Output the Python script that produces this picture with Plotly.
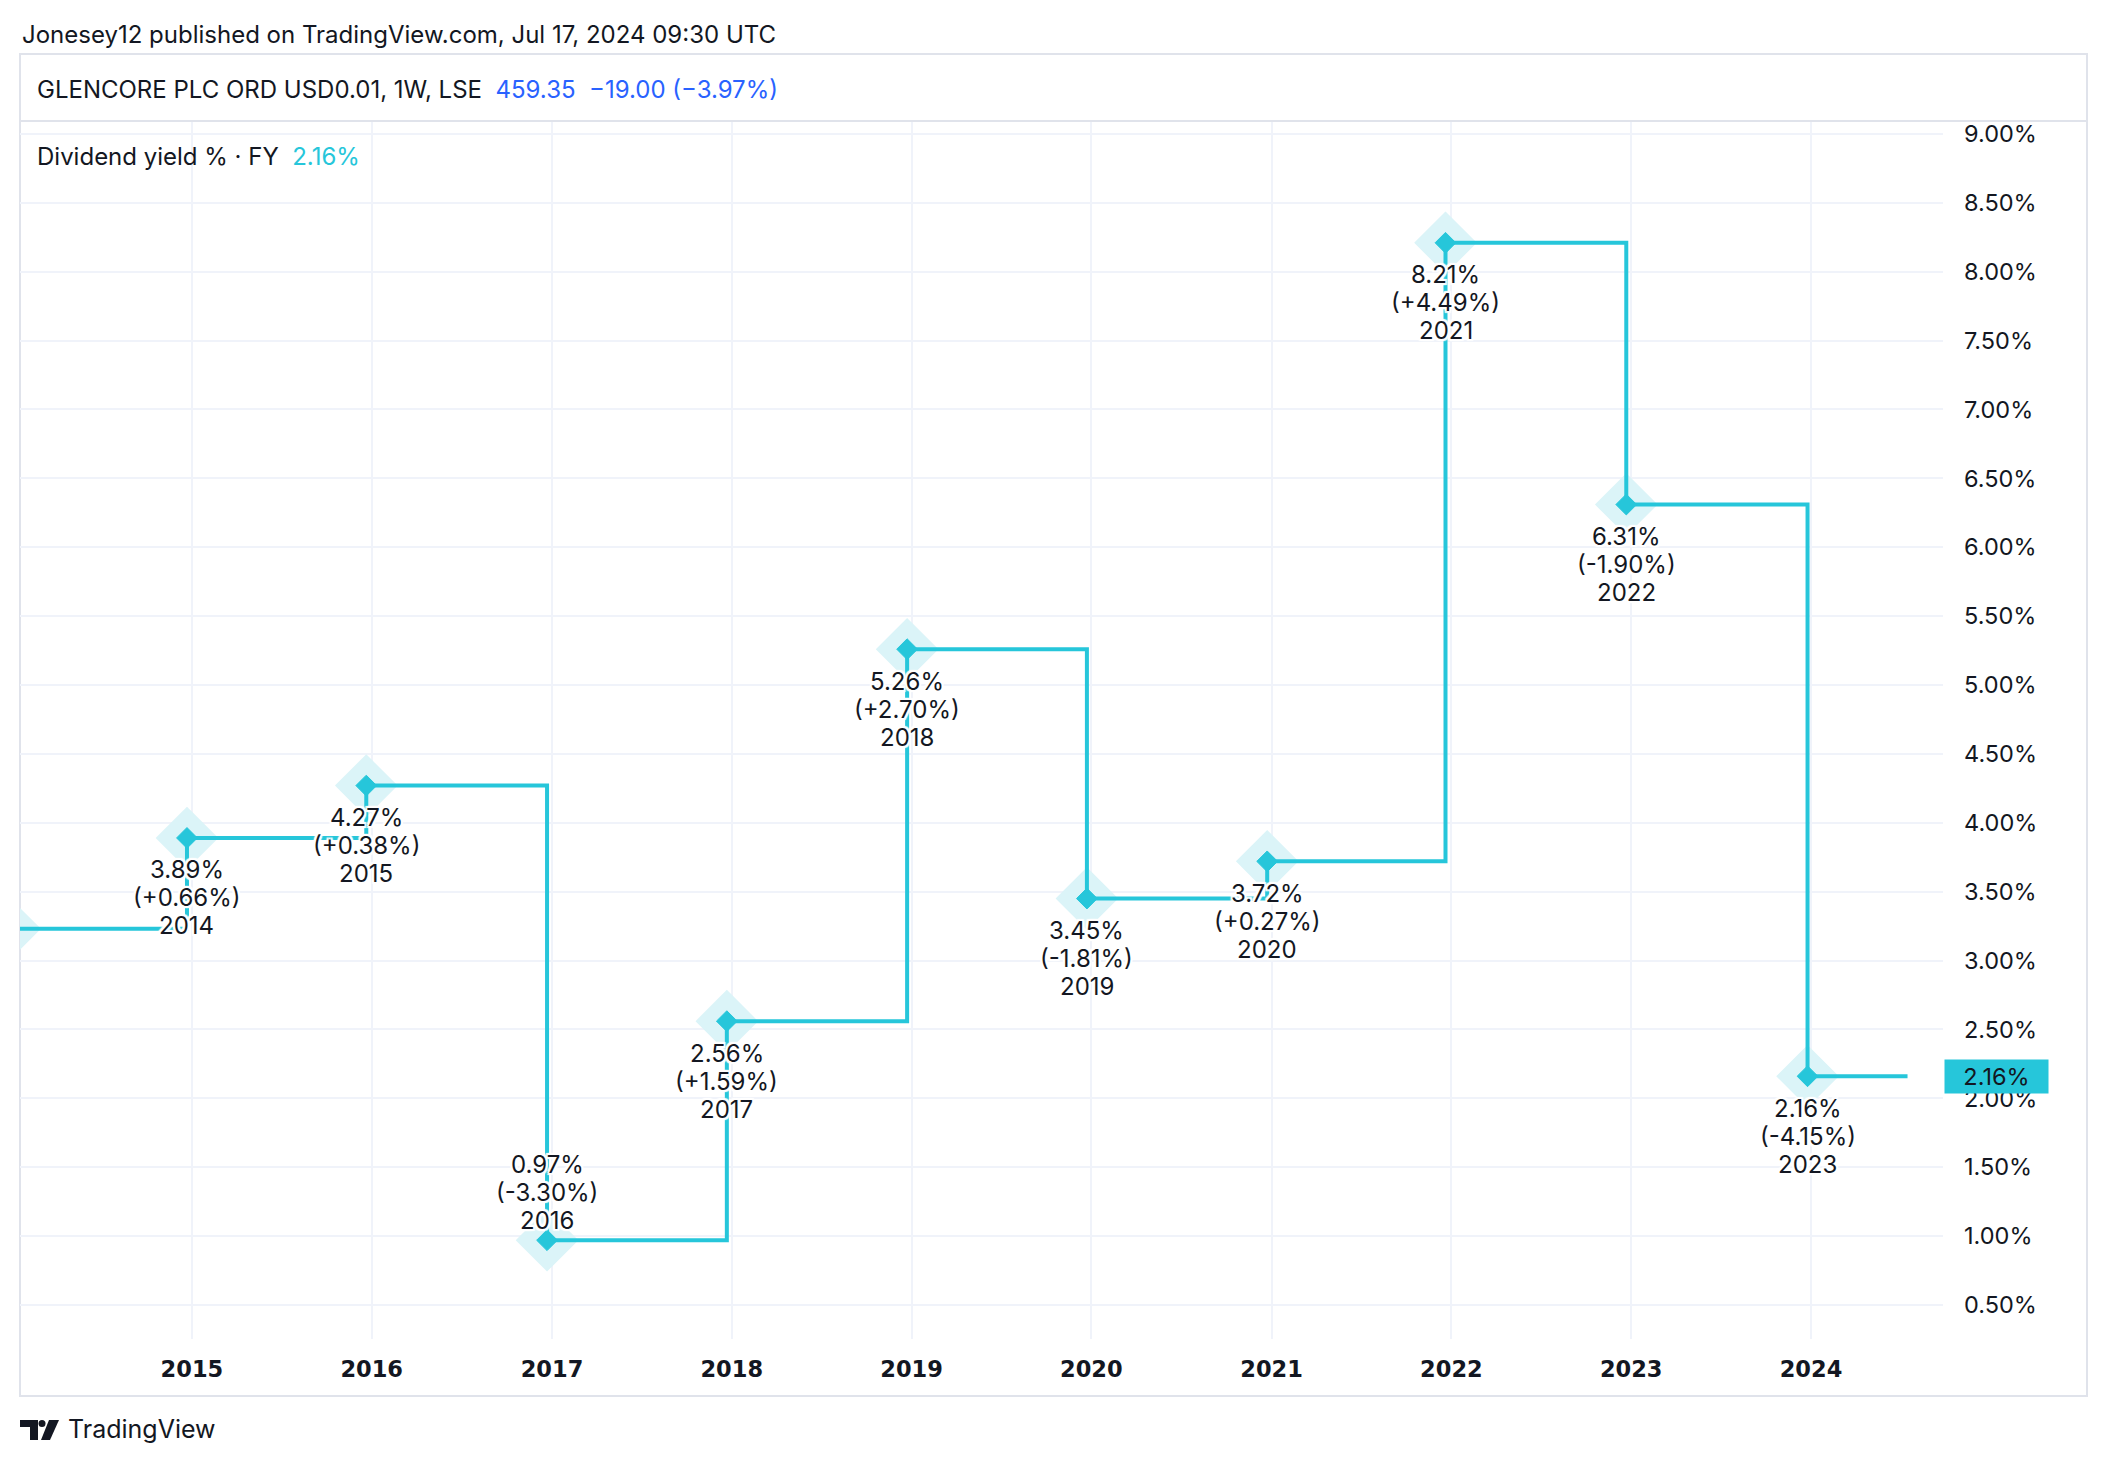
import plotly.graph_objects as go

# ---------------- data ----------------
fiscal_years = [2013, 2014, 2015, 2016, 2017, 2018, 2019, 2020, 2021, 2022, 2023]
point_dates = ["2013-12-27", "2014-12-22", "2015-12-21", "2016-12-22", "2017-12-22",
               "2018-12-23", "2019-12-23", "2020-12-23", "2021-12-20", "2022-12-22", "2023-12-25"]
dividend_yield = [3.23, 3.89, 4.27, 0.97, 2.56, 5.26, 3.45, 3.72, 8.21, 6.31, 2.16]
yoy_change = [None, 0.66, 0.38, -3.30, 1.59, 2.70, -1.81, 0.27, 4.49, -1.90, -4.15]
last_date = "2024-07-15"
current_yield = 2.16
year_ticks = ["2015-01-01", "2016-01-01", "2017-01-01", "2018-01-01", "2019-01-01",
              "2020-01-01", "2021-01-01", "2022-01-01", "2023-01-01", "2024-01-01"]
year_tick_labels = ["2015", "2016", "2017", "2018", "2019", "2020", "2021", "2022", "2023", "2024"]

# ---------------- style / layout (page pixel targets) ----------------
OFF = 8                     # default body margin of the html page
W, H = 2090, 1446           # figure size
L, R, T, B = 20, 1943, 121, 1339   # plot area in page pixels
CYAN = "#26C6DA"
HALO = "#DBF4F8"
DARK = "#131722"
GRID = "#F0F3FA"
FRAME = "#E0E3EB"
BLUE = "#2962FF"
FONT = "Inter"


def px2x(px):
    return (px - L) / (R - L)


def py2y(py):
    return (B - py) / (B - T)


fig = go.Figure()

# halo markers
fig.add_trace(go.Scatter(
    x=point_dates, y=dividend_yield, mode="markers",
    marker=dict(symbol="diamond", size=46, color=HALO, line=dict(width=2, color=HALO)),
    hoverinfo="skip", showlegend=False))

# step line
fig.add_trace(go.Scatter(
    x=point_dates + [last_date], y=dividend_yield + [current_yield],
    mode="lines", line=dict(color=CYAN, width=4, shape="hv"),
    hoverinfo="skip", showlegend=False))

# core markers
fig.add_trace(go.Scatter(
    x=point_dates, y=dividend_yield, mode="markers",
    marker=dict(symbol="diamond", size=16, color=CYAN, line=dict(width=1, color=CYAN)),
    hoverinfo="skip", showlegend=False))

shadow = ", ".join(f"{dx}px {dy}px 1px white" for dx in (-2, 0, 2) for dy in (-2, 0, 2) if (dx, dy) != (0, 0))

annotations = []
for d, v, c, yr in zip(point_dates, dividend_yield, yoy_change, fiscal_years):
    if c is None:
        continue
    lines = [f"{v:.2f}%", f"({c:+.2f}%)", f"{yr}"]
    above = v < 1.5
    for i, ln in enumerate(lines):
        shift = (20 + 28 * (2 - i)) if above else -(32 + 28 * i)
        annotations.append(dict(
            x=d, y=v, xref="x", yref="y", text=ln, showarrow=False,
            xanchor="center", yanchor="middle", yshift=shift,
            font=dict(family=FONT, size=24, color=DARK, shadow=shadow)))

# header texts
annotations += [
    dict(x=px2x(20), y=py2y(35), xref="paper", yref="paper", xanchor="left", yanchor="middle",
         text="Jonesey12 published on TradingView.com, Jul 17, 2024 09:30 UTC", showarrow=False,
         font=dict(family=FONT, size=24, color=DARK)),
    dict(x=px2x(35), y=py2y(90), xref="paper", yref="paper", xanchor="left", yanchor="middle",
         text=f"GLENCORE PLC ORD USD0.01, 1W, LSE  <span style='color:{BLUE}'>459.35  −19.00 (−3.97%)</span>",
         showarrow=False, font=dict(family=FONT, size=24, color=DARK)),
    dict(x=px2x(35), y=py2y(157), xref="paper", yref="paper", xanchor="left", yanchor="middle",
         text=f"Dividend yield % · FY  <span style='color:{CYAN}'>{current_yield:.2f}%</span>",
         showarrow=False, font=dict(family=FONT, size=24, color=DARK)),
    dict(x=px2x(1944), y=current_yield, xref="paper", yref="y", xanchor="left", yanchor="middle",
         text=f"{current_yield:.2f}%", showarrow=False, bgcolor=CYAN, width=99, height=29,
         borderpad=2, align="center", font=dict(family=FONT, size=23.5, color=DARK)),
    dict(x=px2x(66), y=py2y(1429), xref="paper", yref="paper", xanchor="left", yanchor="middle",
         text="TradingView", showarrow=False, font=dict(family=FONT, size=25, color=DARK)),
]

shapes = [
    # outer frame
    dict(type="rect", xref="paper", yref="paper", x0=px2x(20), x1=px2x(2087), y0=py2y(1396), y1=py2y(54),
         line=dict(color=FRAME, width=2), fillcolor="rgba(0,0,0,0)", layer="below"),
    # header separator
    dict(type="line", xref="paper", yref="paper", x0=px2x(20), x1=px2x(2087), y0=py2y(121), y1=py2y(121),
         line=dict(color=FRAME, width=2)),
    # TradingView logo (approximation)
    dict(type="path", xref="paper", yref="paper",
         path=(f"M {px2x(20)},{py2y(1420)} L {px2x(38)},{py2y(1420)} L {px2x(38)},{py2y(1440)} "
               f"L {px2x(30)},{py2y(1440)} L {px2x(30)},{py2y(1427)} L {px2x(20)},{py2y(1427)} Z"),
         fillcolor=DARK, line=dict(width=0)),
    dict(type="circle", xref="paper", yref="paper", x0=px2x(38.5), x1=px2x(45.5), y0=py2y(1427), y1=py2y(1420),
         fillcolor=DARK, line=dict(width=0)),
    dict(type="path", xref="paper", yref="paper",
         path=(f"M {px2x(49)},{py2y(1420)} L {px2x(59)},{py2y(1420)} L {px2x(50)},{py2y(1440)} "
               f"L {px2x(41)},{py2y(1440)} Z"),
         fillcolor=DARK, line=dict(width=0)),
]

fig.update_layout(
    width=W, height=H,
    margin=dict(l=L - OFF, r=W - (R - OFF), t=T - OFF, b=H - (B - OFF)),
    paper_bgcolor="white", plot_bgcolor="white",
    showlegend=False,
    annotations=annotations, shapes=shapes,
    xaxis=dict(
        range=["2014-01-17", "2024-09-25"], type="date",
        tickmode="array", tickvals=year_ticks, ticktext=year_tick_labels,
        showgrid=True, gridcolor=GRID, gridwidth=1.5, zeroline=False, showline=False,
        ticks="", ticklabelstandoff=14,
        tickfont=dict(family="DejaVu Sans", size=22.5, color=DARK, weight="bold"),
    ),
    yaxis=dict(
        range=[0.253, 9.094], side="right", tick0=0.5, dtick=0.5,
        tickformat=".2f", ticksuffix="%",
        showgrid=True, gridcolor=GRID, gridwidth=1.5, zeroline=False, showline=False,
        ticks="", ticklabelstandoff=20,
        tickfont=dict(family=FONT, size=23.5, color=DARK),
    ),
)

fig.write_html("out.html")
